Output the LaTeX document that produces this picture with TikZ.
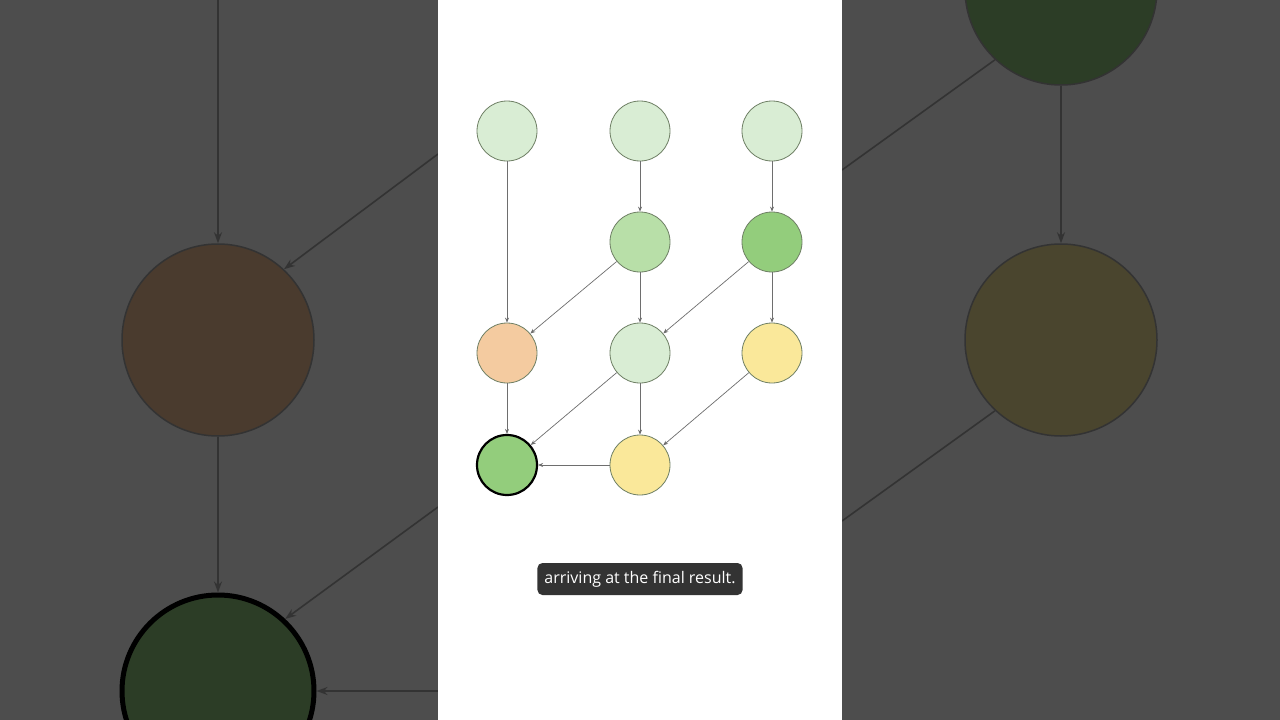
\documentclass[tikz,border=0pt]{standalone}
\usepackage{fontspec}
\setmainfont{Open Sans}
\usetikzlibrary{arrows.meta}
\definecolor{bgdark}{HTML}{4D4D4D}
\definecolor{pale}{HTML}{D9EDD4}
\definecolor{midgreen}{HTML}{B8DFA8}
\definecolor{green}{HTML}{93CD7C}
\definecolor{peach}{HTML}{F4CBA0}
\definecolor{yell}{HTML}{FAE89A}
\definecolor{rim}{HTML}{6E7F64}
\definecolor{edgec}{HTML}{6E6E6E}
\definecolor{dbrown}{HTML}{4A3B2E}
\definecolor{dgreen}{HTML}{2C3D26}
\definecolor{dolive}{HTML}{4A452E}
\definecolor{caption}{HTML}{333333}
\tikzset{
  dot/.style={circle, minimum size=60pt, inner sep=0pt, draw=rim, line width=0.8pt},
  link/.style={draw=edgec, line width=0.7pt, -{Stealth[length=5pt,width=4pt]}},
  bigdot/.style={circle, minimum size=192pt, inner sep=0pt, draw=black!80, line width=1.5pt},
  biglink/.style={draw=black!80, line width=1.6pt, -{Stealth[length=11pt,width=8pt]}},
  bigline/.style={draw=black!80, line width=1.6pt}
}
\begin{document}
\begin{tikzpicture}[x=1pt,y=-1pt]
\useasboundingbox (0,0) rectangle (1280,720);
\fill[bgdark] (0,0) rectangle (1280,720);
% left blurred side
\node[bigdot, fill=dbrown] (L1) at (218,340) {};
\node[bigdot, fill=dgreen, line width=5pt, draw=black] (L2) at (218,691) {};
\coordinate (La) at (218,0);
\coordinate (Lb) at (438,154);
\coordinate (Lc) at (438,507);
\coordinate (Ld) at (438,691);
\draw[biglink] (La) -- (L1);
\draw[biglink] (Lb) -- (L1.47);
\draw[biglink] (L1) -- (L2);
\draw[biglink] (Lc) -- (L2.47);
\draw[biglink] (Ld) -- (L2);
% right blurred side
\node[bigdot, fill=dgreen] (R1) at (1061,-11) {};
\node[bigdot, fill=dolive] (R2) at (1061,340) {};
\coordinate (Ra) at (842,170);
\coordinate (Rb) at (842,521);
\draw[bigline] (R1.227) -- (Ra);
\draw[bigline] (R2.227) -- (Rb);
\draw[biglink] (R1) -- (R2);
% white panel
\fill[white] (438,0) rectangle (842,720);
% main graph
\node[dot, fill=pale] (a1) at (507,131) {};
\node[dot, fill=pale] (a2) at (640,131) {};
\node[dot, fill=pale] (a3) at (772,131) {};
\node[dot, fill=midgreen] (b2) at (640,242) {};
\node[dot, fill=green] (b3) at (772,242) {};
\node[dot, fill=peach] (c1) at (507,353) {};
\node[dot, fill=pale] (c2) at (640,353) {};
\node[dot, fill=yell] (c3) at (772,353) {};
\node[dot, fill=green, draw=black, line width=2.2pt] (d1) at (507,465) {};
\node[dot, fill=yell] (d2) at (640,465) {};
\draw[link] (a1) -- (c1);
\draw[link] (a2) -- (b2);
\draw[link] (a3) -- (b3);
\draw[link] (b2) -- (c1);
\draw[link] (b2) -- (c2);
\draw[link] (b3) -- (c2);
\draw[link] (b3) -- (c3);
\draw[link] (c1) -- (d1);
\draw[link] (c2) -- (d1);
\draw[link] (c2) -- (d2);
\draw[link] (c3) -- (d2);
\draw[link] (d2) -- (d1);
% caption
\node[fill=caption, rounded corners=5pt, text=white, font=\fontsize{16}{18}\selectfont, minimum height=32pt, inner xsep=7pt] (cap) at (640,579) {arriving at the final result.};
\end{tikzpicture}
\end{document}
